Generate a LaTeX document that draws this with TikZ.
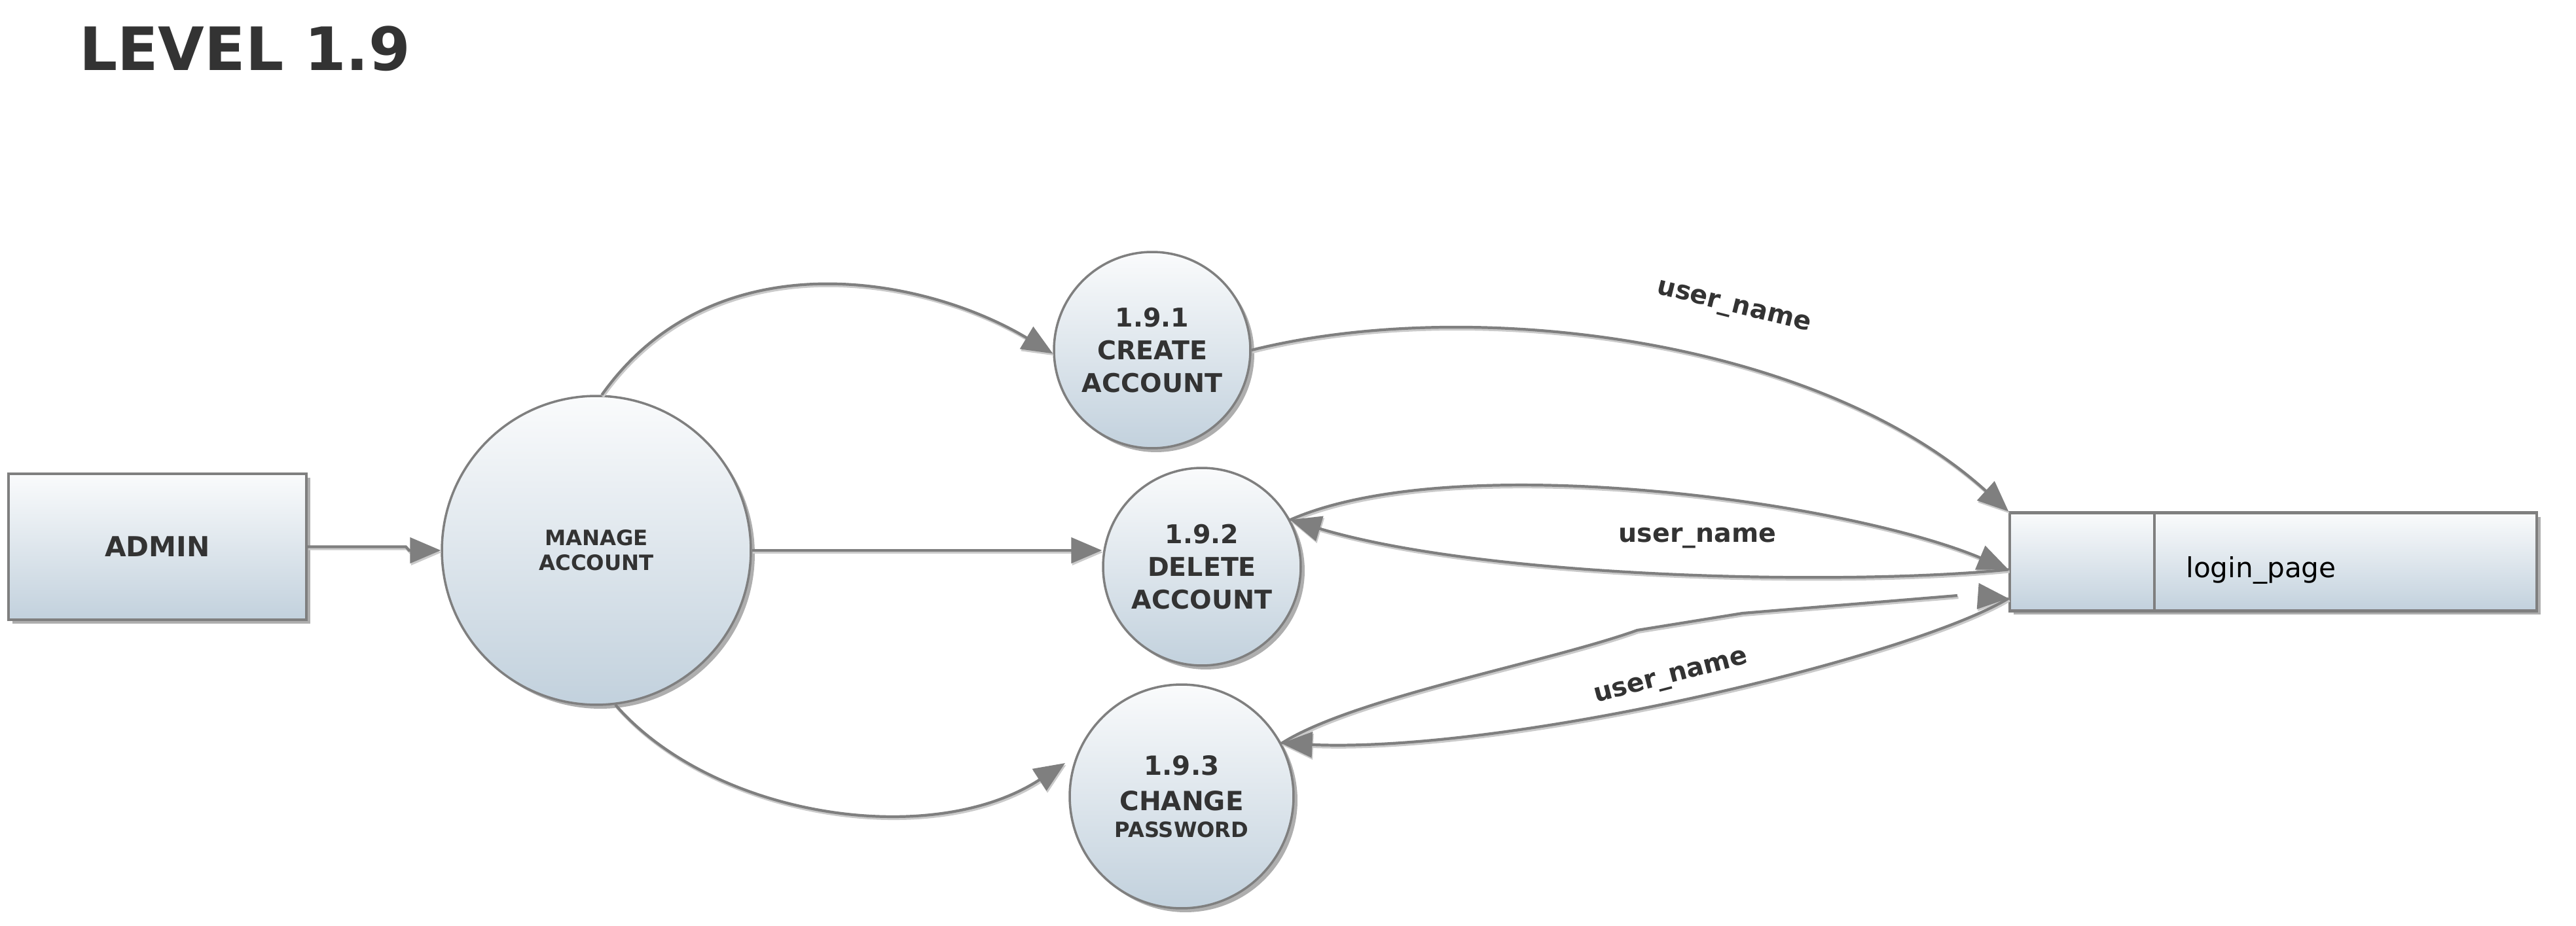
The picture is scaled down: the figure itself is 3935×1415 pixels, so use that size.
\documentclass[tikz,border=0pt]{standalone}
\usepackage{fontspec}
\setmainfont{DejaVu Sans}
\usetikzlibrary{arrows.meta,shadows,calc}

\definecolor{ink}{HTML}{333333}
\definecolor{edge}{HTML}{7F7F7F}
\definecolor{fillTop}{RGB}{250,251,252}
\definecolor{fillBot}{RGB}{194,209,221}
\definecolor{flowShade}{HTML}{CACACA}

\tikzset{
  entity/.style={draw=edge, line width=2.3pt, top color=fillTop, bottom color=fillBot,
    drop shadow={shadow xshift=0.12cm, shadow yshift=-0.12cm, opacity=0.45, fill=black!70},
    text=ink, inner sep=0pt},
  process/.style={entity, circle, line width=2pt, align=center},
  flow/.style={draw=edge, line width=2.4pt,
    preaction={draw=flowShade, line width=2.4pt, transform canvas={xshift=0.03cm, yshift=-0.06cm}}},
  arrowhd/.style={-{Triangle[length=0.94cm, width=0.78cm]}},
  flowlabel/.style={text=ink, font=\bfseries\fontsize{22.5}{26}\selectfont, inner sep=0pt},
}

\begin{document}
\begin{tikzpicture}[x=0.02cm, y=-0.02cm]
  % canvas
  \fill[white] (0,0) rectangle (3935,1415);
  \useasboundingbox (0,0) rectangle (3935,1415);

  % heading
  \node[anchor=base west, inner sep=0pt, text=ink, font=\bfseries\fontsize{52}{60}\selectfont]
    (title) at (121,108) {LEVEL 1.9};

  % external entity
  \node[entity, minimum width=9.1cm, minimum height=4.46cm,
        font=\bfseries\fontsize{24}{28}\selectfont] (admin) at (240.5,835.5) {ADMIN};

  % processes
  \node[process, minimum size=9.44cm, font=\bfseries\fontsize{18.4}{21.5}\selectfont]
    (manage) at (911,841) {MANAGE\\ACCOUNT};
  \node[process, minimum size=6cm, font=\bfseries\fontsize{22.5}{28.3}\selectfont]
    (c1) at (1760,535) {1.9.1\\CREATE\\ACCOUNT};
  \node[process, minimum size=6.04cm, font=\bfseries\fontsize{22.5}{28.3}\selectfont]
    (c2) at (1836,866) {1.9.2\\DELETE\\ACCOUNT};
  \node[process, minimum size=6.84cm, font=\bfseries\fontsize{23}{31}\selectfont]
    (c3) at (1805,1217) {1.9.3\\CHANGE\\[-8pt]{\fontsize{18.3}{21}\selectfont PASSWORD}};

  % data store
  \node[entity, minimum width=16.1cm, minimum height=3cm] (store) at (3472.5,858.5) {};
  \draw[draw=edge, line width=2.3pt] ($(store.north west)+(223,0)$) -- ($(store.south west)+(223,0)$);
  \node[anchor=base west, inner sep=0pt, text=black, font=\fontsize{24}{28}\selectfont]
    (storetext) at (3339,882) {login\_page};

  \coordinate (storeA) at ($(store.north west)!0.577!(store.south west)$);
  \coordinate (storeB) at ($(store.north west)!0.863!(store.south west)$);

  % flows out of the admin and the manage process
  \draw[flow, arrowhd] (admin.east) -- ++(150,0) -- ++(5,5.5) -- (manage.west);
  \draw[flow, arrowhd] (manage.88) .. controls +(170,-240) and +(-200,-120) .. (c1.182);
  \draw[flow, arrowhd] (manage.east) -- (manage.east -| c2.west);
  \draw[flow, arrowhd, shorten >=0.4cm] (manage.-83.5) .. controls +(150,172) and +(-221,144) .. (c3.159);

  % create account -> store
  \draw[flow, arrowhd] (c1.east) .. controls +(340,-85) and +(-290,-263) .. (store.north west);
  \node[flowlabel, rotate=-14] (lbl1) at (2648,471) {user\_name};

  % delete account <-> store
  \draw[flow, arrowhd] (c2.28) .. controls +(250,-110) and +(-250,-105) .. (storeA);
  \draw[flow, arrowhd] (storeA) .. controls +(-250,25) and +(300,90) .. (c2.28);
  \node[flowlabel] (lbl2) at (2593,822) {user\_name};

  % change password <-> store
  \coordinate (bend1) at (2501,963);
  \coordinate (bend2) at (2662,937);
  \coordinate (loose) at (2990,910);
  \coordinate (gapend) at (3022,911);
  \draw[flow] (c3.28) .. controls +(110,-70) and +(-140,50) .. (bend1) -- (bend2) -- (loose);
  \draw[flow, arrowhd] (gapend) -- (storeB);
  \draw[flow, arrowhd] (storeB) .. controls +(-150,90) and +(350,15) .. (c3.28);
  \node[flowlabel, rotate=14.5] (lbl3) at (2553,1037) {user\_name};
\end{tikzpicture}
\end{document}
